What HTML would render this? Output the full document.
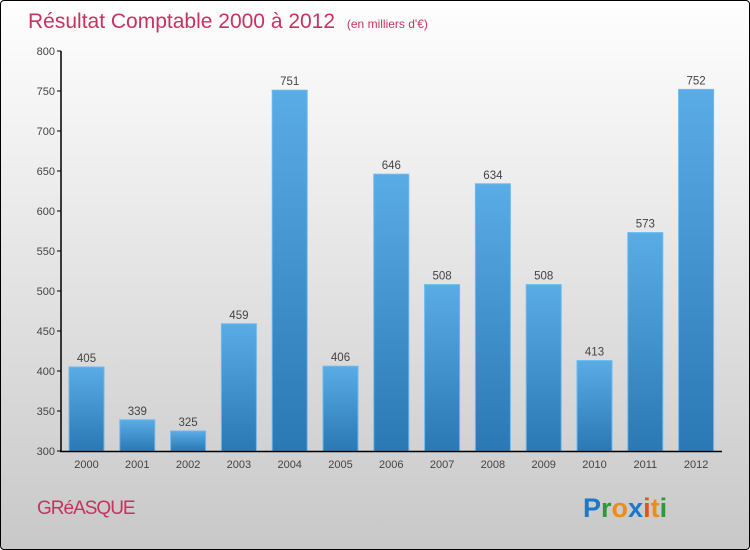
<!DOCTYPE html>
<html><head><meta charset="utf-8"><style>
body{margin:0}
#c{width:748px;height:548px;border:1px solid #000;border-radius:4px;background:linear-gradient(#fefefe,#f4f4f4 20%,#c8c8c8);position:relative;overflow:hidden;font-family:"Liberation Sans",sans-serif}
svg{position:absolute;left:0;top:0}
</style></head><body>
<div id="c">
<svg width="750" height="550" id="s">
<defs><linearGradient id="g" x1="0" y1="0" x2="0" y2="1"><stop offset="0" stop-color="#5aace6"/><stop offset="1" stop-color="#2a78b4"/></linearGradient></defs>
<text x="27" y="27" font-size="21" fill="#c8325e">Résultat Comptable 2000 à 2012 <tspan font-size="12" dx="6">(en milliers d'€)</tspan></text>
<text x="36" y="513" font-size="19" fill="#c8325e" letter-spacing="-1">GRéASQUE</text>
<text x="582" y="516" font-size="27" font-weight="bold"><tspan fill="#1e78c8">P</tspan><tspan fill="#2a9a3a">r</tspan><tspan fill="#f08a1a">o</tspan><tspan fill="#1e78c8">x</tspan><tspan fill="#e8501a">i</tspan><tspan fill="#f08a1a">t</tspan><tspan fill="#2a9a3a">i</tspan></text>
</svg>
</div>
<script>
const categories=["2000","2001","2002","2003","2004","2005","2006","2007","2008","2009","2010","2011","2012"];
const values=[405,339,325,459,751,406,646,508,634,508,413,573,752];
const yTicks=[300,350,400,450,500,550,600,650,700,750,800];
const s=document.getElementById('s');const NS='http://www.w3.org/2000/svg';
const y=v=>450-(v-300)*0.8;const x=i=>85.5+i*50.8;
function mk(t,a,txt){const e=document.createElementNS(NS,t);for(const k in a)e.setAttribute(k,a[k]);if(txt!=null)e.textContent=txt;s.appendChild(e);return e;}
yTicks.forEach(v=>{const l=mk('line',{x1:56,x2:60,y1:y(v),y2:y(v),stroke:'#000'});


const t=mk('text',{x:54,y:y(v)+4,'text-anchor':'end','font-size':11,fill:'#444'},v);

});
values.forEach((v,i)=>{const r=mk('rect',{x:x(i)-17.5,y:y(v),width:35,height:450-y(v),fill:'url(#g)',stroke:'#6cbaf0','stroke-width':1});


const t=mk('text',{x:x(i),y:y(v)-5,'text-anchor':'middle','font-size':11.5,fill:'#444'},v);


const c=mk('text',{x:x(i),y:467,'text-anchor':'middle','font-size':11,fill:'#444'},categories[i]);

});
const ax=mk('line',{x1:60,x2:60,y1:50,y2:451,stroke:'#000','stroke-width':1.5});


const bx=mk('line',{x1:59,x2:721,y1:450.5,y2:450.5,stroke:'#000','stroke-width':1.5});


</script>
</body></html>
